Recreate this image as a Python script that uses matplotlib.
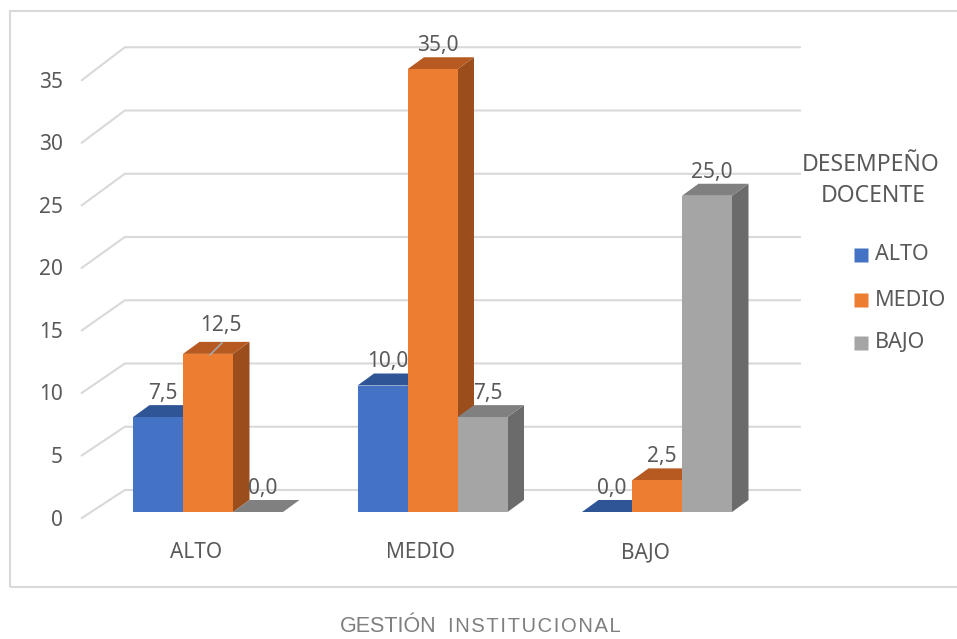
import matplotlib
matplotlib.use('Agg')
import matplotlib.pyplot as plt
from matplotlib.patches import Polygon, Rectangle
from matplotlib.lines import Line2D

# ---------------- data ----------------
categories = ['ALTO', 'MEDIO', 'BAJO']
series_names = ['ALTO', 'MEDIO', 'BAJO']
alto = [7.5, 10.0, 0.0]
medio = [12.5, 35.0, 2.5]
bajo = [0.0, 7.5, 25.0]
yticks = [0, 5, 10, 15, 20, 25, 30, 35]
legend_title = ['DESEMPEÑO', 'DOCENTE']
xlabel_main = 'GESTIÓN'
xlabel_rest = 'INSTITUCIONAL'

series = [alto, medio, bajo]
front_c = ['#4472C4', '#ED7D31', '#A5A5A5']
top_c = ['#2F5597', '#B65A22', '#808080']
side_c = ['#2B4C8A', '#9C4D1C', '#6B6B6B']

FONT = ['Noto Sans', 'DejaVu Sans']
TXT = '#595959'
GRID = '#D9D9D9'

W, H = 957, 639
fig = plt.figure(figsize=(W / 100, H / 100), dpi=100)
ax = fig.add_axes([0, 0, 1, 1])

# scale: data units <-> pixels
PXX = 224.5   # pixels per category unit
PXY = 12.65   # pixels per value unit
X0, Y0 = 208, 512
ax.set_xlim((0 - X0) / PXX, (W - X0) / PXX)
ax.set_ylim((Y0 - H) / PXY, Y0 / PXY)
ax.axis('off')


def d(px_dx, px_dy):
    return px_dx / PXX, px_dy / PXY


def fx(px):  # figure pixel x -> fraction
    return px / W


def fy(py):
    return 1 - py / H


# depth vectors
bar_d = d(16.5, 12)
back_d = d(33.8, 22)
FRONT_SCALE = 12.51 / PXY   # slight perspective on the front edge of the side wall
front_dx, front_dy = d(-9.2, -6)
xl, xr = -0.521, 2.486

# gridlines (side wall diagonals + back wall)
for v in yticks:
    fxp, fyp = xl + front_dx, v * FRONT_SCALE + front_dy
    bxl, byv = xl + back_d[0], v + back_d[1]
    bxr = xr + back_d[0]
    ax.plot([fxp, bxl, bxr], [fyp, byv, byv], color=GRID, lw=1.5,
            solid_joinstyle='miter', zorder=1)
    ax.text(fxp - 19 / PXX, fyp - 2 / PXY, f'{v}', ha='right', va='center',
            fontsize=15, color=TXT, family=FONT)

# bars
w = 50 / PXX
dx, dy = bar_d
for i in range(len(categories)):
    for j, vals in enumerate(series):
        v = vals[i]
        x0 = i + (j - 1.5) * w
        x1 = x0 + w
        z = 3 + i * 10 + j
        if v > 0:
            ax.add_patch(Polygon([(x1, 0), (x1 + dx, dy), (x1 + dx, v + dy), (x1, v)],
                                 closed=True, facecolor=side_c[j], edgecolor='none', zorder=z))
        ax.add_patch(Polygon([(x0, v), (x1, v), (x1 + dx, v + dy), (x0 + dx, v + dy)],
                             closed=True, facecolor=top_c[j], edgecolor='none', zorder=z))
        if v > 0:
            ax.add_patch(Rectangle((x0, 0), w, v, facecolor=front_c[j],
                                   edgecolor='none', zorder=z))
        lab = f'{v:.1f}'.replace('.', ',')
        cx = (x0 + x1) / 2
        if i == 0 and j == 1:
            lx, ly = cx + 13 / PXX, v + 23 / PXY
            ax.plot([cx + 14 / PXX, cx + 2 / PXX], [v + 11 / PXY, v - 1 / PXY],
                    color='#A6A6A6', lw=1.2, zorder=40)
        else:
            lx, ly = cx + 5 / PXX, v + 18 / PXY
        ax.text(lx, ly, lab, ha='center', va='baseline', fontsize=15,
                color=TXT, family=FONT, zorder=50)

# category labels
for i, c in enumerate(categories):
    ax.text(i - 12 / PXX, (Y0 - 553) / PXY, c, ha='center', va='center',
            fontsize=15, color=TXT, family=FONT)

# legend
fig.text(fx(871), fy(165), legend_title[0], ha='center', va='center',
         fontsize=16.5, color=TXT, family=FONT)
fig.text(fx(873), fy(196), legend_title[1], ha='center', va='center',
         fontsize=16.5, color=TXT, family=FONT)
for k, (name, yy) in enumerate(zip(series_names, [254.5, 300, 343])):
    fig.add_artist(Line2D([fx(860.5)], [fy(yy)], marker='s', markersize=9.4,
                          markerfacecolor=front_c[k], markeredgecolor='none',
                          linestyle='none', transform=fig.transFigure))
    fig.text(fx(875), fy(yy), name, ha='left', va='center',
             fontsize=15.5, color=TXT, family=FONT)

# chart border
fig.add_artist(Rectangle((fx(9.5), fy(587)), fx(957 - 9.5 + 5), fy(11) - fy(587),
                         transform=fig.transFigure, facecolor='none',
                         edgecolor='#D9D9D9', lw=1.5))

# axis title (small caps style)
HS = '\u200a'
fig.text(fx(340), fy(632), xlabel_main, ha='left', va='baseline',
         fontsize=15.5, color='#7F7F7F', family=['Liberation Sans', 'DejaVu Sans'])
fig.text(fx(448), fy(632), HS.join(xlabel_rest), ha='left', va='baseline',
         fontsize=14.5, color='#7F7F7F', family=['Liberation Sans', 'DejaVu Sans'])

fig.savefig('out.png', dpi=100)
